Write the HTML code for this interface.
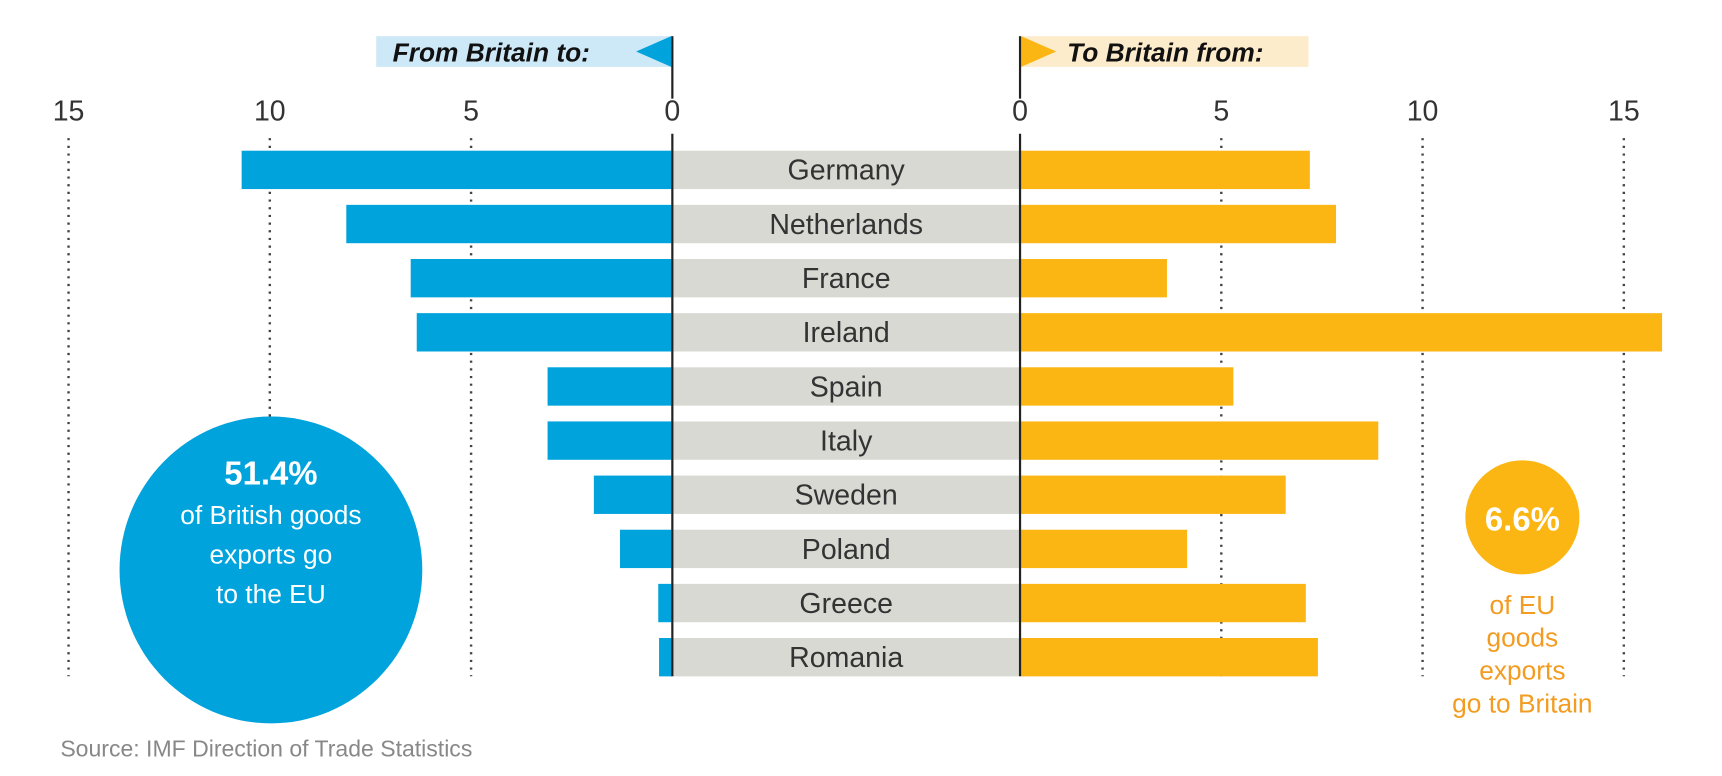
<!DOCTYPE html>
<html><head><meta charset="utf-8"><style>
html,body{margin:0;padding:0;background:#fff;width:1722px;height:776px;overflow:hidden}
svg{display:block;font-family:"Liberation Sans",sans-serif}
</style></head><body>
<svg id="chart" width="1722" height="776" viewBox="0 0 1570 708" preserveAspectRatio="none" xmlns="http://www.w3.org/2000/svg">
<g>
<rect x="343" y="33" width="270" height="28" fill="#cde9f7"/>
<polygon points="580,47 612,33 612,61" fill="#00a3dc"/>
<text x="358" y="56" font-size="24" font-style="italic" font-weight="bold" fill="#111">From Britain to:</text>
</g>
<g>
<rect x="930" y="33" width="263" height="28" fill="#fdeccb"/>
<polygon points="931,33 963,47 931,61" fill="#fbb614"/>
<text x="973" y="56" font-size="24" font-style="italic" font-weight="bold" fill="#111">To Britain from:</text>
</g>
<line x1="613" y1="33" x2="613" y2="90" stroke="#222" stroke-width="2"/>
<line x1="930" y1="33" x2="930" y2="90" stroke="#222" stroke-width="2"/>
<g id="grid"></g>
<g id="bars"></g>
<g>
<ellipse cx="247" cy="520" rx="138" ry="140" fill="#00a3dc"/>
<text x="247" y="442" font-size="30" font-weight="bold" fill="#fff" text-anchor="middle">51.4%</text>
<text x="247" y="478" font-size="24" fill="#fff" text-anchor="middle">of British goods</text>
<text x="247" y="514" font-size="24" fill="#fff" text-anchor="middle">exports go</text>
<text x="247" y="550" font-size="24" fill="#fff" text-anchor="middle">to the EU</text>
</g>
<g>
<circle cx="1388" cy="472" r="52" fill="#fbb614"/>
<text x="1388" y="484" font-size="30" font-weight="bold" fill="#fff" text-anchor="middle">6.6%</text>
<text x="1388" y="560" font-size="24" fill="#f39c22" text-anchor="middle">of EU</text>
<text x="1388" y="590" font-size="24" fill="#f39c22" text-anchor="middle">goods</text>
<text x="1388" y="620" font-size="24" fill="#f39c22" text-anchor="middle">exports</text>
<text x="1388" y="650" font-size="24" fill="#f39c22" text-anchor="middle">go to Britain</text>
</g>
<text x="55" y="690" font-size="21" fill="#888">Source: IMF Direction of Trade Statistics</text>
</svg>
<script>
const countries=["Germany","Netherlands","France","Ireland","Spain","Italy","Sweden","Poland","Greece","Romania"];
const fromBritain=[10.7,8.1,6.5,6.35,3.1,3.1,1.95,1.3,0.35,0.33];
const toBritain=[7.2,7.85,3.65,15.95,5.3,8.9,6.6,4.15,7.1,7.4];
const ticks=[0,5,10,15];
const NS="http://www.w3.org/2000/svg";
const L0=613,R0=930,U=36.7,Y0=155,STEP=49.4,BH=35;
const xl=v=>L0-v*U, xr=v=>R0+v*U, yc=i=>Y0+i*STEP;
function mk(t,a,p){const e=document.createElementNS(NS,t);for(const k in a)e.setAttribute(k,a[k]);p.appendChild(e);return e;}
const grid=document.getElementById('grid'),bars=document.getElementById('bars');
ticks.forEach(t=>{
 [xl(t),xr(t)].forEach((x,j)=>{
  const tx=mk('text',{x:x,y:110,'font-size':26,fill:'#333','text-anchor':'middle'},grid);
  tx.textContent=t;
  
  
  if(t>0){const ln=mk('line',{x1:x,y1:126,x2:x,y2:617,stroke:'#444','stroke-width':2.2,'stroke-dasharray':'2 5'},grid);
  
  }
 });
});
countries.forEach((c,i)=>{
 const y=yc(i)-BH/2;
 const g=mk('rect',{x:L0,y:y,width:R0-L0,height:BH,fill:'#d9d9d4'},bars);
 
 
 const b=mk('rect',{x:xl(fromBritain[i]),y:y,width:fromBritain[i]*U,height:BH,fill:'#00a3dc'},bars);
 
 
 const o=mk('rect',{x:R0,y:y,width:toBritain[i]*U,height:BH,fill:'#fbb614'},bars);
 
 
 const t=mk('text',{x:(L0+R0)/2,y:yc(i)+9,'font-size':26,fill:'#333','text-anchor':'middle'},bars);
 t.textContent=c;
 
 
});
[L0,R0].forEach(x=>{const l=mk('line',{x1:x,y1:122,x2:x,y2:617,stroke:'#222','stroke-width':2},bars);

});
</script>
</body></html>
